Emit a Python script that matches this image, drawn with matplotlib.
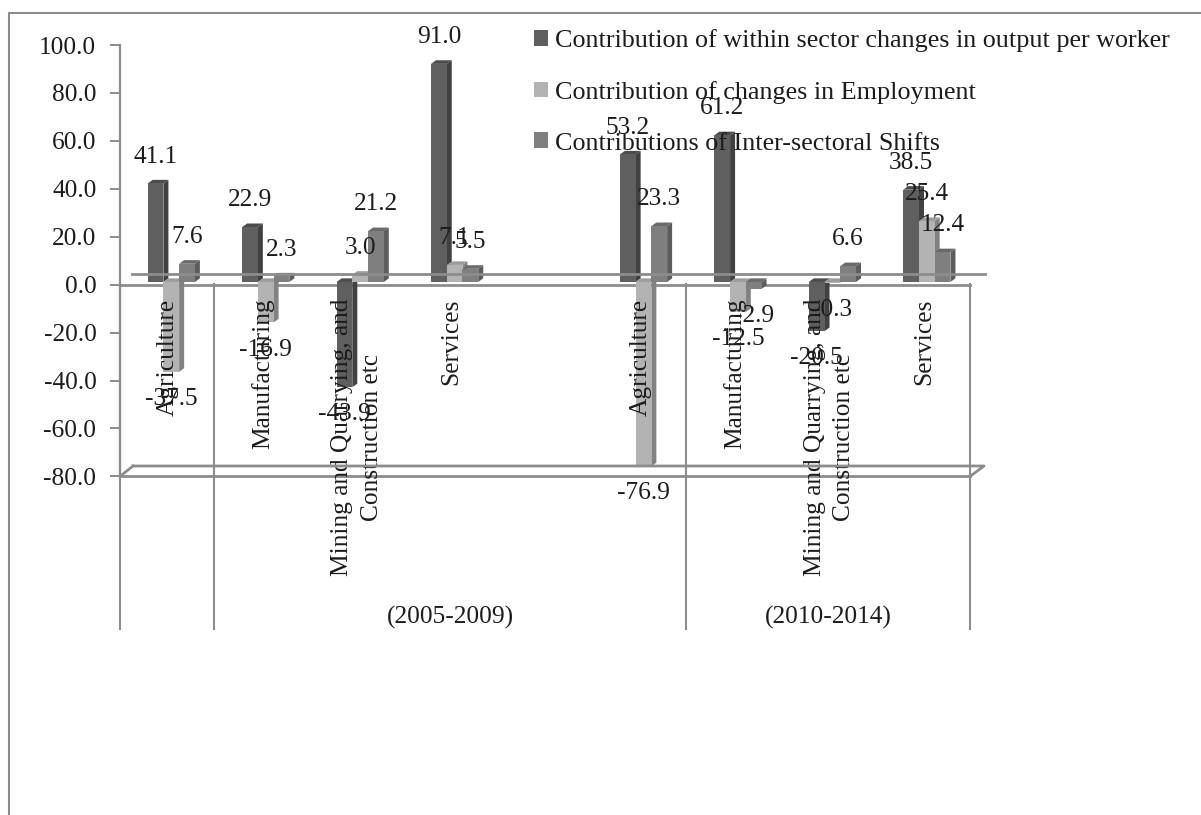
import numpy as np
import matplotlib
matplotlib.use('Agg')
import matplotlib.pyplot as plt
from matplotlib.lines import Line2D
from matplotlib.patches import Polygon
from matplotlib.transforms import Affine2D

# 数据
categories = ['Agriculture', 'Manufacturing', 'Mining and Quarrying, and\nConstruction etc', 'Services', '',
              'Agriculture', 'Manufacturing', 'Mining and Quarrying, and\nConstruction etc', 'Services']
periods = ['(2005-2009)', '(2010-2014)']
within = [41.1, 22.9, -43.9, 91.0, np.nan, 53.2, 61.2, -20.5, 38.5]
employment = [-37.5, -16.9, 3.0, 7.1, np.nan, -76.9, -12.5, -0.3, 25.4]
shifts = [7.6, 2.3, 21.2, 5.5, np.nan, 23.3, -2.9, 6.6, 12.4]
series_names = ['Contribution of within sector changes in output per worker',
                'Contribution of changes in Employment',
                'Contributions of Inter-sectoral Shifts']
y_ticks = [-80, -60, -40, -20, 0, 20, 40, 60, 80, 100]

plt.rcParams['font.family'] = ['Liberation Serif', 'DejaVu Serif']
W, H = 1201, 815
FS = 18.3
GREY = '#8c8c8c'
TXT = '#1c1c1c'

fig = plt.figure(figsize=(W / 100, H / 100), dpi=100, facecolor='white')
ax = fig.add_axes([120 / W, 1 - 476.4 / H, 850 / W, 431.4 / H])
ax.set_xlim(0, 9)
ax.set_ylim(-80, 100)
ax.patch.set_visible(False)
for s in ['top', 'right', 'bottom']:
    ax.spines[s].set_visible(False)
ax.spines['left'].set_color(GREY)
ax.spines['left'].set_linewidth(1.6)
ax.set_xticks([])
ax.set_yticks(y_ticks)
ax.set_yticklabels(['%.1f' % t for t in y_ticks], fontsize=FS, color=TXT)
ax.tick_params(axis='y', length=7, width=1.4, color=GREY, pad=10)

# 图片像素坐标（y向下），用于画框和背景线
px = Affine2D().scale(1, -1).translate(0, H)


def line(xs, ys, lw=1.5):
    fig.add_artist(Line2D(xs, ys, transform=px, color=GREY, lw=lw, zorder=0.5))


line([9, 9, W], [H, 13, 13], 1.5)
line([132, 985], [274, 274], 2)
line([133, 984, 970], [466, 466, 476.4], 2)
line([133, 120], [466, 476.4], 2)
for xp in [120, 214.4, 686.4, 970]:
    line([xp, xp], [284, 629], 1.5)
ax.axhline(0, color=GREY, lw=2, zorder=0.6, clip_on=False)
ax.axhline(-80, color=GREY, lw=2, zorder=0.6, clip_on=False)

# 三维柱子
shift = Affine2D().translate(0, 2.7)
tr = ax.transData + shift
bar_w = 1 / 6
start = 0.293
dx = 5 / (850 / 9)
dy = 3.6 / (431.4 / 180)
colors = [('#5f5f5f', '#414141', '#4c4c4c'),
          ('#b3b3b3', '#828282', '#9c9c9c'),
          ('#7f7f7f', '#5c5c5c', '#6a6a6a')]
handles = []
z = 2
for k, vals in enumerate([within, employment, shifts]):
    front, side, top = colors[k]
    x = np.arange(9) + start + (k + 0.5) * bar_w
    bars = ax.bar(x, vals, width=bar_w, color=front, transform=tr, zorder=z + 0.3, label=series_names[k])
    handles.append(bars)
    for xi, v in zip(x, vals):
        if np.isnan(v):
            continue
        l, r = xi - bar_w / 2, xi + bar_w / 2
        hi, lo = max(v, 0), min(v, 0)
        ax.add_patch(Polygon([(r, lo), (r + dx, lo + dy), (r + dx, hi + dy), (r, hi)],
                             color=side, lw=0, transform=tr, zorder=z + 0.2))
        ax.add_patch(Polygon([(l, hi), (l + dx, hi + dy), (r + dx, hi + dy), (r, hi)],
                             color=top, lw=0, transform=tr, zorder=z + 0.2))
        off = 21.3 if v >= 0 else -17.6
        ax.annotate('%.1f' % v, (xi, v), xytext=(0, off), textcoords='offset points',
                    ha='center', va='center', fontsize=FS, color=TXT, zorder=8, annotation_clip=False)
    z += 1

# 类别标签
for i, c in enumerate(categories):
    if c:
        ax.text(i + 0.5, 0, c, transform=ax.transData + Affine2D().translate(1, -14), rotation=90,
                ha='center', va='top', ma='center', fontsize=FS, color=TXT, zorder=9, linespacing=1.45)
for p, xp in zip(periods, [450, 828]):
    fig.text(xp, 617, p, transform=px, ha='center', va='center', fontsize=FS, color=TXT, zorder=9)

leg = ax.legend(handles=handles, loc='upper left', bbox_to_anchor=(534, 29), bbox_transform=px,
                frameon=False, fontsize=18.8, handlelength=0.52, handleheight=0.55, handletextpad=0.28,
                labelspacing=1.1, borderpad=0, borderaxespad=0, labelcolor=TXT)
leg.set_zorder(10)

fig.savefig('out.png', dpi=100, facecolor='white')
